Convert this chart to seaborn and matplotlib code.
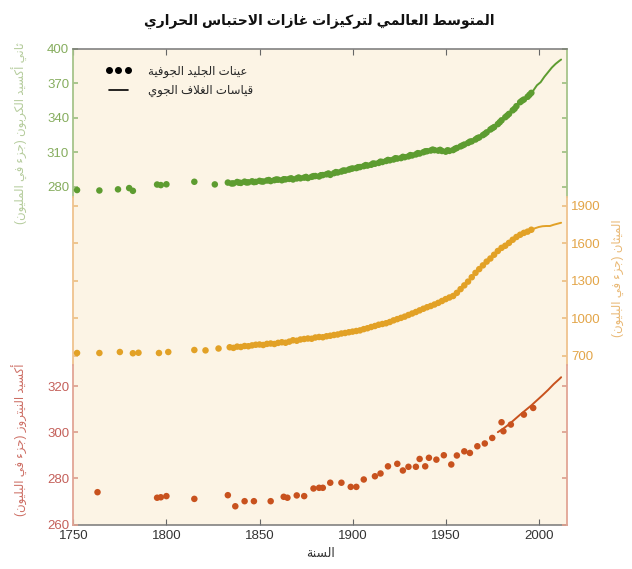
import numpy as np
import pandas as pd
import seaborn as sns
import matplotlib.pyplot as plt
from matplotlib.lines import Line2D

# Values
title_text = "المتوسط العالمي لتركيزات غازات الاحتباس الحراري"
x_label = "السنة"
co2_label = "ثاني أكسيد الكربون (جزء في المليون)"
ch4_label = "الميثان (جزء في البليون)"
n2o_label = "أكسيد النيتروز (جزء في البليون)"
legend_labels = ["عينات الجليد الجوفية", "قياسات الغلاف الجوي"]

year_ticks = [1750, 1800, 1850, 1900, 1950, 2000]
co2_ticks = [280, 310, 340, 370, 400]
ch4_ticks = [700, 1000, 1300, 1600, 1900]
n2o_ticks = [260, 280, 300, 320]

# CO2 ice cores (ppm)
co2_ice_years = [1752, 1764, 1774, 1780, 1782, 1795, 1797, 1800, 1815, 1826,
                 1833, 1835, 1836, 1838, 1839, 1840, 1842, 1843, 1844, 1846, 1847, 1848,
                 1850, 1851, 1852, 1854, 1855, 1856, 1858, 1859, 1860, 1862, 1863, 1864,
                 1866, 1867, 1868, 1870, 1871, 1872, 1874, 1875, 1876, 1878, 1879, 1880,
                 1882, 1883, 1884, 1886, 1887, 1888, 1890, 1891, 1892, 1894, 1895, 1896,
                 1898, 1899, 1900, 1902, 1903, 1904, 1906, 1907, 1908, 1910, 1911, 1912,
                 1914, 1915, 1916, 1918, 1919, 1920, 1922, 1923, 1924, 1926, 1927, 1928,
                 1930, 1931, 1932, 1934, 1935, 1936, 1938, 1939, 1940, 1942, 1943, 1944,
                 1946, 1947, 1948, 1950, 1951, 1952, 1954, 1955, 1956, 1958, 1959, 1960,
                 1962, 1963, 1964, 1966, 1967, 1968, 1970, 1971, 1972, 1974, 1975, 1976,
                 1978, 1979, 1980, 1982, 1983, 1984, 1986, 1987, 1988, 1990, 1991, 1992,
                 1994, 1995, 1996]
co2_ice_ppm = [277.2, 276.8, 277.8, 278.9, 276.5, 282.0, 281.5, 282.2, 284.4, 282.1,
               283.7, 282.9, 283.0, 284.2, 283.6, 283.4, 284.5, 283.8, 283.9, 284.8, 284.1, 284.3,
               285.2, 284.7, 284.6, 285.5, 285.9, 285.0, 285.8, 286.4, 286.2, 285.7, 286.6, 286.5,
               286.9, 287.4, 286.4, 287.3, 288.1, 287.4, 288.0, 288.6, 287.6, 288.7, 289.3, 289.4,
               289.0, 290.1, 290.2, 290.9, 291.6, 290.4, 291.9, 292.8, 292.5, 293.3, 294.2, 294.1,
               295.0, 295.6, 296.0, 296.3, 297.1, 297.2, 298.0, 298.9, 298.5, 299.2, 300.3, 300.1,
               300.8, 301.9, 301.6, 302.5, 303.4, 303.1, 303.8, 304.9, 304.6, 305.0, 306.1, 305.8,
               306.5, 307.6, 307.3, 308.2, 309.3, 309.0, 310.1, 310.9, 311.0, 311.6, 312.4, 311.9,
               311.5, 312.2, 311.2, 310.6, 311.8, 311.3, 312.0, 313.1, 313.8, 315.2, 316.0, 316.8,
               318.2, 319.3, 319.6, 321.2, 322.4, 323.0, 325.0, 326.1, 327.4, 329.9, 331.0, 332.0,
               334.6, 336.2, 337.9, 340.6, 342.0, 343.5, 346.6, 348.0, 350.2, 353.7, 355.0, 356.0,
               358.4, 360.1, 361.8]

# CO2 atmosphere (ppm)
co2_air_years = [1959, 1961, 1963, 1965, 1967, 1969, 1971, 1973, 1975, 1977, 1979, 1981,
                 1983, 1985, 1987, 1989, 1991, 1993, 1995, 1997, 1999, 2001, 2003, 2005,
                 2007, 2009, 2011, 2012]
co2_air_ppm = [316.0, 317.6, 319.0, 320.0, 322.2, 324.6, 326.3, 329.7, 331.1, 333.8, 336.8, 340.1,
               343.0, 346.0, 349.2, 353.1, 355.6, 357.1, 360.8, 363.7, 368.4, 371.1, 375.8, 379.8,
               383.8, 387.0, 389.6, 390.8]

# CH4 ice cores (ppb)
ch4_ice_years = [1752, 1764, 1775, 1782, 1785, 1796, 1801, 1815, 1821, 1828,
                 1834, 1836, 1838, 1840, 1842, 1844, 1846, 1848, 1850, 1852, 1854, 1856,
                 1858, 1860, 1862, 1864, 1866, 1868, 1870, 1872, 1874, 1876, 1878, 1880,
                 1882, 1884, 1886, 1888, 1890, 1892, 1894, 1896, 1898, 1900, 1902, 1904,
                 1906, 1908, 1910, 1912, 1914, 1916, 1918, 1920, 1922, 1924, 1926, 1928,
                 1930, 1932, 1934, 1936, 1938, 1940, 1942, 1944, 1946, 1948, 1950, 1952,
                 1954, 1956, 1958, 1960, 1962, 1964, 1966, 1968, 1970, 1972, 1974, 1976,
                 1978, 1980, 1982, 1984, 1986, 1988, 1990, 1992, 1994, 1996]
ch4_ice_ppb = [724, 724, 732, 722, 726, 724, 732, 748, 745, 760,
               770, 765, 775, 772, 780, 778, 785, 790, 792, 788, 797, 800,
               796, 805, 810, 806, 815, 826, 822, 832, 836, 840, 838, 848,
               852, 850, 858, 862, 868, 872, 880, 884, 890, 895, 900, 905,
               915, 922, 932, 940, 950, 956, 962, 972, 985, 995, 1005, 1015,
               1028, 1040, 1052, 1065, 1078, 1090, 1100, 1112, 1125, 1140, 1155, 1168,
               1180, 1205, 1235, 1265, 1295, 1330, 1365, 1395, 1425, 1455, 1480, 1510,
               1540, 1565, 1582, 1605, 1630, 1652, 1670, 1685, 1695, 1710]

# CH4 atmosphere (ppb)
ch4_air_years = [1984, 1986, 1988, 1990, 1992, 1994, 1996, 1998, 2000, 2002, 2004, 2006,
                 2008, 2010, 2012]
ch4_air_ppb = [1612, 1634, 1656, 1673, 1690, 1700, 1710, 1722, 1732, 1738, 1740, 1740,
               1750, 1758, 1766]

# N2O ice cores (ppb)
n2o_ice_years = [1763, 1795, 1797, 1800, 1815, 1833, 1837, 1842, 1847, 1856, 1863, 1865,
                 1870, 1874, 1879, 1882, 1884, 1888, 1894, 1899, 1902, 1906, 1912, 1915,
                 1919, 1924, 1927, 1930, 1934, 1936, 1939, 1941, 1945, 1949, 1953, 1956,
                 1960, 1963, 1967, 1971, 1975, 1980, 1981, 1985, 1992, 1997]
n2o_ice_ppb = [274.0, 271.6, 271.8, 272.3, 271.1, 272.7, 267.9, 270.1, 270.1, 270.1, 272.0, 271.6,
               272.6, 272.3, 275.6, 275.9, 275.9, 278.1, 278.1, 276.3, 276.3, 279.5, 280.9, 282.1,
               285.2, 286.3, 283.4, 285.0, 285.0, 288.4, 285.2, 288.9, 288.1, 290.0, 286.0, 289.9,
               291.7, 291.0, 293.9, 295.1, 297.5, 304.3, 300.4, 303.3, 307.6, 310.5]

# N2O atmosphere (ppb)
n2o_air_years = [1978, 1981, 1984, 1987, 1990, 1993, 1996, 1999, 2002, 2005, 2008, 2011, 2012]
n2o_air_ppb = [300.0, 301.6, 303.4, 305.5, 307.6, 309.6, 311.6, 313.8, 316.0, 318.3, 320.8, 323.0, 323.8]


# matplotlib has no Arabic shaping, so map letters to presentation forms
FOUR_FORM = {'ئ': 0xFE89, 'ب': 0xFE8F, 'ت': 0xFE95, 'ث': 0xFE99, 'ج': 0xFE9D, 'ح': 0xFEA1,
             'خ': 0xFEA5, 'س': 0xFEB1, 'ش': 0xFEB5, 'ص': 0xFEB9, 'ض': 0xFEBD, 'ط': 0xFEC1,
             'ظ': 0xFEC5, 'ع': 0xFEC9, 'غ': 0xFECD, 'ف': 0xFED1, 'ق': 0xFED5, 'ك': 0xFED9,
             'ل': 0xFEDD, 'م': 0xFEE1, 'ن': 0xFEE5, 'ه': 0xFEE9, 'ي': 0xFEF1}
TWO_FORM = {'آ': 0xFE81, 'أ': 0xFE83, 'ؤ': 0xFE85, 'إ': 0xFE87, 'ا': 0xFE8D, 'ة': 0xFE93,
            'د': 0xFEA9, 'ذ': 0xFEAB, 'ر': 0xFEAD, 'ز': 0xFEAF, 'و': 0xFEED, 'ى': 0xFEEF}
LAM_ALEF = {'آ': 0xFEF5, 'أ': 0xFEF7, 'إ': 0xFEF9, 'ا': 0xFEFB}


def ar(text):
    out = []
    i = 0
    n = len(text)
    while i < n:
        c = text[i]
        prev = text[i - 1] if i > 0 else ''
        nxt = text[i + 1] if i + 1 < n else ''
        joined_prev = prev in FOUR_FORM
        if c == 'ل' and nxt in LAM_ALEF:
            out.append(chr(LAM_ALEF[nxt] + (1 if joined_prev else 0)))
            i += 2
            continue
        if c in FOUR_FORM:
            joined_next = nxt in FOUR_FORM or nxt in TWO_FORM
            base = FOUR_FORM[c]
            if joined_prev and joined_next:
                out.append(chr(base + 3))
            elif joined_prev:
                out.append(chr(base + 1))
            elif joined_next:
                out.append(chr(base + 2))
            else:
                out.append(chr(base))
        elif c in TWO_FORM:
            out.append(chr(TWO_FORM[c] + (1 if joined_prev else 0)))
        elif c == 'ء':
            out.append(chr(0xFE80))
        else:
            out.append(c)
        i += 1
    vis = ''.join(reversed(out))
    return vis.translate(str.maketrans('()', ')('))


sns.set_theme(style="ticks")
plt.rcParams['font.family'] = ['Liberation Sans', 'DejaVu Sans']

green, orange, red = '#5d9c30', '#e2a126', '#c8521e'

fig = plt.figure(figsize=(6.32, 5.69), dpi=100)
ax_co2 = fig.add_axes([0.116, 0.0782, 0.7807, 0.8357])
ax_co2.set_facecolor('#fcf4e5')
ax_ch4 = ax_co2.twinx()
ax_n2o = ax_co2.twinx()

for ax, ice_x, ice_y, air_x, air_y, col in [
        (ax_co2, co2_ice_years, co2_ice_ppm, co2_air_years, co2_air_ppm, green),
        (ax_ch4, ch4_ice_years, ch4_ice_ppb, ch4_air_years, ch4_air_ppb, orange),
        (ax_n2o, n2o_ice_years, n2o_ice_ppb, n2o_air_years, n2o_air_ppb, red)]:
    sns.lineplot(x=air_x, y=air_y, ax=ax, color=col, lw=1.4)
    sns.scatterplot(x=ice_x, y=ice_y, ax=ax, color=col, s=22, edgecolor='none', zorder=3)

ax_co2.set_xlim(1750, 2015)
ax_co2.set_xticks(year_ticks)
ax_co2.tick_params(axis='x', direction='in', top=True, bottom=True, length=4, width=0.8,
                   color='#666666', labelsize=9.5, labelcolor='#333333', pad=4)

ax_co2.set_ylim(-14, 400)
ax_ch4.set_ylim(-648, 3156)
ax_n2o.set_ylim(260, 466)
ax_co2.set_yticks(co2_ticks)
ax_ch4.set_yticks(ch4_ticks)
ax_n2o.set_yticks(n2o_ticks)

ax_co2.tick_params(axis='y', direction='in', left=True, right=True, labelleft=True,
                   labelright=False, length=3.5, color='#9fbf82', labelcolor='#86ad5e',
                   labelsize=9.5, pad=3)
ax_ch4.tick_params(axis='y', direction='in', left=True, right=True, labelleft=False,
                   labelright=True, length=3.5, color='#ecc084', labelcolor='#e3a548',
                   labelsize=9.5, pad=3)
ax_n2o.tick_params(axis='y', direction='in', left=True, right=True, labelleft=True,
                   labelright=False, length=3.5, color='#dca08f', labelcolor='#c4605a',
                   labelsize=9.5, pad=3)

for ax in (ax_ch4, ax_n2o):
    ax.spines['top'].set_visible(False)
    ax.spines['bottom'].set_visible(False)
for side in ('top', 'bottom'):
    ax_co2.spines[side].set_color('#777777')
    ax_co2.spines[side].set_linewidth(1.1)
for ax, lo, hi, col in [(ax_co2, 271, 400, '#a6c48a'), (ax_ch4, 628, 1972, '#efc38e'),
                        (ax_n2o, 260, 329, '#e2a595')]:
    for side in ('left', 'right'):
        ax.spines[side].set_bounds(lo, hi)
        ax.spines[side].set_color(col)
        ax.spines[side].set_linewidth(1.3)

ax_co2.set_xlabel(ar(x_label), fontsize=9, color='#333333', labelpad=4)
ax_co2.set_ylabel(ar(co2_label), fontsize=8.5, color='#b5cc9c')
ax_co2.yaxis.set_label_coords(-0.092, 0.823)
ax_ch4.set_ylabel(ar(ch4_label), fontsize=8.5, color='#e9b874')
ax_ch4.yaxis.set_label_coords(1.092, 0.518)
ax_n2o.yaxis.set_label_position('left')
ax_n2o.set_ylabel(ar(n2o_label), fontsize=8.5, color='#cd6e64')
ax_n2o.yaxis.set_label_coords(-0.092, 0.178)

handles = [Line2D([], [], color='black', marker='o', ls='none', markersize=4),
           Line2D([], [], color='black', lw=1.2)]
ax_n2o.legend(handles, [ar(t) for t in legend_labels], numpoints=3, loc='upper left',
              bbox_to_anchor=(0.055, 0.975), frameon=False, fontsize=8.5,
              handlelength=2.2, handletextpad=1.4, labelspacing=0.6, borderaxespad=0)

fig.text(0.506, 0.962, ar(title_text), ha='center', va='center', fontsize=10,
         fontweight='bold', color='#111111')

fig.savefig('out.png', dpi=100)
